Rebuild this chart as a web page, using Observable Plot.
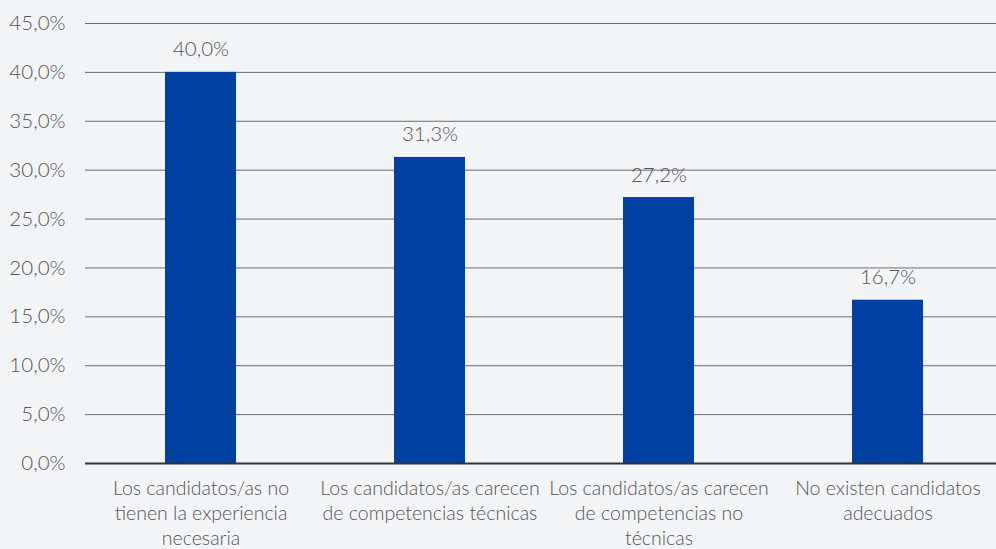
<!DOCTYPE html>
<html>
<head>
<meta charset="utf-8">
<script src="https://cdn.jsdelivr.net/npm/d3@7"></script>
<script src="https://cdn.jsdelivr.net/npm/@observablehq/plot@0.6"></script>
<style>
  html, body { margin: 0; padding: 0; background: #f3f4f6; }
  #chart svg { display: block; background: #f3f4f6; }
</style>
</head>
<body>
<div id="chart"></div>
<script>
const categories = [
  "Los candidatos/as no\ntienen la experiencia\nnecesaria",
  "Los candidatos/as carecen\nde competencias técnicas",
  "Los candidatos/as carecen\nde competencias no\ntécnicas",
  "No existen candidatos\nadecuados"
];
const values = [40.0, 31.3, 27.2, 16.7];
const yTicks = [0, 5, 10, 15, 20, 25, 30, 35, 40, 45];

const data = categories.map((c, i) => ({cat: c, value: values[i]}));
const fmt = d => d.toFixed(1).replace(".", ",") + "%";

const chart = Plot.plot({
  width: 996,
  height: 549,
  marginTop: 23,
  marginBottom: 86,
  marginLeft: 85,
  marginRight: 0,
  style: {background: "#f3f4f6", fontFamily: "Lato, sans-serif", fontWeight: 300, color: "#555"},
  x: {domain: categories, range: [85, 1003], paddingInner: 0.69, paddingOuter: 0.345, label: null},
  y: {domain: [0, 45], label: null},
  marks: [
    Plot.ruleY(yTicks.filter(d => d > 0), {stroke: "#6b6b6b", strokeWidth: 1, strokeOpacity: 1}),
    Plot.barY(data, {x: "cat", y: "value", fill: "#0041a3"}),
    Plot.ruleY([0], {stroke: "#333", strokeWidth: 2}),
    Plot.text(data, {x: "cat", y: "value", text: d => fmt(d.value), lineAnchor: "bottom", dy: -16, fontSize: 20.5, fill: "#555", fontWeight: 300}),
    Plot.axisY({ticks: yTicks, tickFormat: fmt, tickSize: 0, tickPadding: 20, fontSize: 20.5, fill: "#555", label: null}),
    Plot.axisX({tickSize: 0, tickPadding: 14, fontSize: 19.5, lineHeight: 1.28, fill: "#555", label: null})
  ]
});
document.getElementById("chart").appendChild(chart);
</script>
</body>
</html>
